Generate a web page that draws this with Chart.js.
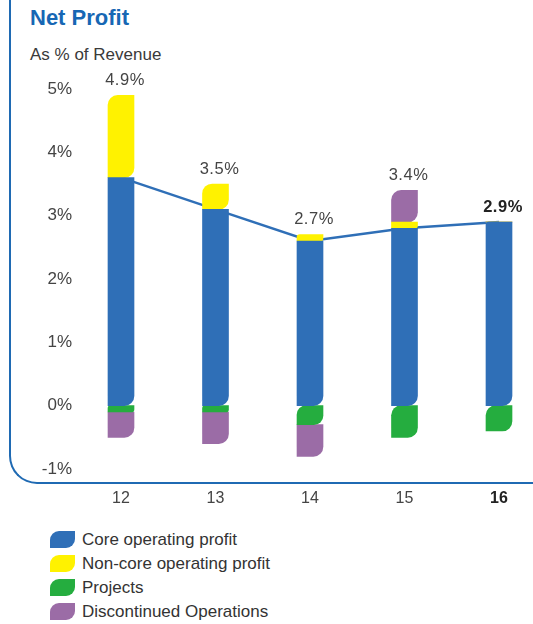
<!DOCTYPE html>
<html>
<head>
<meta charset="utf-8">
<script src="https://cdn.jsdelivr.net/npm/chart.js@4.4.1/dist/chart.umd.min.js"></script>
<style>
  body { margin: 0; width: 533px; height: 624px; overflow: hidden; background: #fff; font-family: "Liberation Sans", Arial, sans-serif; position: relative; }
  .frame { position: absolute; left: 9px; top: 0; width: 540px; height: 482px; border-left: 2px solid #1f6ab3; border-bottom: 2px solid #1f6ab3; border-bottom-left-radius: 28px; }
  .title { position: absolute; left: 30px; top: 5px; font-size: 22px; font-weight: bold; color: #1767b4; }
  .subtitle { position: absolute; left: 30px; top: 45px; font-size: 17px; color: #3a3a3a; }
  #netProfit { position: absolute; left: 0; top: 0; }
  #legend { position: absolute; left: 50px; top: 528px; }
  .item { height: 24px; display: flex; align-items: center; font-size: 17px; color: #333; }
  .box { width: 25px; height: 17px; border-radius: 9px 0 9px 0; margin-right: 7px; margin-top: -2px; }
</style>
</head>
<body>
<div class="frame"></div>
<div class="title">Net Profit</div>
<div class="subtitle">As % of Revenue</div>
<canvas id="netProfit" width="533" height="509"></canvas>
<div id="legend"></div>
<script>
// years (fiscal)
const years = ["12", "13", "14", "15", "16"];

// % of revenue, per component
const coreProfit = [3.6, 3.1, 2.6, 2.8, 2.9];
const nonCoreProfit = [1.3, 0.4, 0.1, 0.1, 0];
const projects = [-0.1, -0.1, -0.3, -0.5, -0.4];
const discontinued = [-0.4, -0.5, -0.5, 0.5, 0];

const seriesNames = ["Core operating profit", "Non-core operating profit", "Projects", "Discontinued Operations"];
const seriesColors = ["#2f6fb7", "#fff200", "#25ad3f", "#9b6ca6"];

const yTicks = [-1, 0, 1, 2, 3, 4, 5];

const R = 10;

// leaf corners: bottom-right always, top-left only on the outer end near the label / zero line
const leafRadius = (ctx) => {
  const i = ctx.dataIndex;
  const ds = ctx.datasetIndex;
  const all = [coreProfit, nonCoreProfit, projects, discontinued];
  const v = all[ds][i];
  let outer = false;
  if (v > 0) {
    // top of positive stack?
    outer = all.slice(ds + 1).every((s) => !(s[i] > 0));
  } else if (v < 0) {
    // first negative segment under zero?
    outer = all.slice(0, ds).every((s) => !(s[i] < 0));
  }
  const tl = outer ? (ds == 0 ? 3 : R) : 0;
  return { topLeft: tl, topRight: 0, bottomLeft: 0, bottomRight: R };
};

const barSet = (name, data, color) => ({
  type: "bar",
  label: name,
  data: data,
  backgroundColor: color,
  borderWidth: 0,
  borderSkipped: false,
  borderRadius: leafRadius,
  barThickness: 26,
  stack: "np",
  order: 1,
  clip: false,
});

// totals above each column
const totalLabels = {
  id: "totalLabels",
  afterDatasetsDraw(chart) {
    const ctx = chart.ctx;
    const y = chart.scales.y;
    const x = chart.scales.x;
    ctx.save();
    ctx.textAlign = "center";
    ctx.textBaseline = "middle";
    years.forEach((yr, i) => {
      const top = [coreProfit, nonCoreProfit, projects, discontinued]
        .map((s) => Math.max(s[i], 0))
        .reduce((a, b) => a + b, 0);
      const last = i == years.length - 1;
      ctx.font = (last ? "bold " : "") + "16.5px 'Liberation Sans', Arial, sans-serif";
      ctx.fillStyle = last ? "#222" : "#444";
      ctx.letterSpacing = "0.5px";
      ctx.fillText(top.toFixed(1) + "%", x.getPixelForValue(i) + 4, y.getPixelForValue(top) - 15);
    });
    ctx.restore();
  },
};

const data = {
  labels: years,
  datasets: [
    barSet(seriesNames[0], coreProfit, seriesColors[0]),
    barSet(seriesNames[1], nonCoreProfit, seriesColors[1]),
    barSet(seriesNames[2], projects, seriesColors[2]),
    barSet(seriesNames[3], discontinued, seriesColors[3]),
    {
      type: "line",
      label: "core",
      data: coreProfit,
      borderColor: "#2f6fb7",
      borderWidth: 2.5,
      pointRadius: 0,
      tension: 0,
      stack: "line",
      order: 5,
      clip: false,
    },
  ],
};

const config = {
  type: "bar",
  data: data,
  plugins: [totalLabels],
  options: {
    responsive: false,
    animation: false,
    layout: { padding: { top: 89, left: 42, right: 34, bottom: 0 } },
    plugins: {
      legend: { display: false },
      tooltip: { enabled: false },
    },
    scales: {
      x: {
        stacked: true,
        offset: false,
        grid: { display: false, drawTicks: false },
        border: { display: false },
        afterFit: (axis) => {
          axis.height = 40;
        },
        ticks: {
          padding: 20,
          color: (c) => (c.index == 4 ? "#222" : "#444"),
          font: (c) => ({
            family: "'Liberation Sans', Arial, sans-serif",
            size: 16,
            weight: c.index == 4 ? "bold" : "normal",
          }),
        },
      },
      y: {
        stacked: true,
        min: yTicks[0],
        max: yTicks[yTicks.length - 1],
        grid: { display: false, drawTicks: false },
        border: { display: false },
        afterBuildTicks: (axis) => {
          axis.ticks = yTicks.map((v) => ({ value: v }));
        },
        afterFit: (axis) => {
          // tick padding would otherwise also pad top/bottom
          axis.width = 79;
          axis.paddingTop = 10;
          axis.paddingBottom = 10;
        },
        ticks: {
          padding: 49,
          color: "#444",
          font: { family: "'Liberation Sans', Arial, sans-serif", size: 17 },
          callback: (v) => v + "%",
        },
      },
    },
  },
};

const myChart = new Chart(document.getElementById("netProfit"), config);

// legend list
const legend = document.getElementById("legend");
seriesNames.forEach((name, i) => {
  const row = document.createElement("div");
  row.className = "item";
  const box = document.createElement("span");
  box.className = "box";
  box.style.background = seriesColors[i];
  row.appendChild(box);
  row.appendChild(document.createTextNode(name));
  legend.appendChild(row);
});
</script>
</body>
</html>
